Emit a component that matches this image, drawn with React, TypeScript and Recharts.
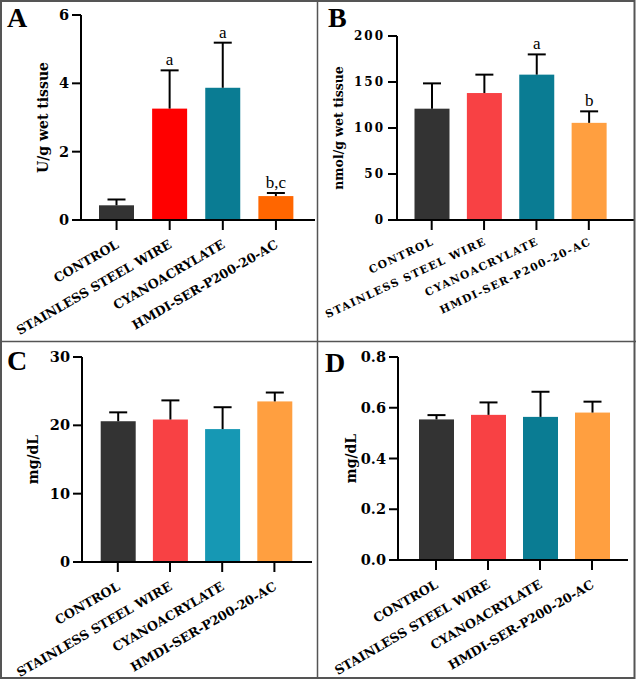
import React from 'react';
import { BarChart, Bar, XAxis, YAxis, Cell, LabelList } from 'recharts';

const groups = ['CONTROL', 'STAINLESS STEEL WIRE', 'CYANOACRYLATE', 'HMDI-SER-P200-20-AC'];

// panel A
const aMean = [0.43, 3.26, 3.87, 0.70];
const aErr = [0.17, 1.12, 1.32, 0.09];
const aNote = ['', 'a', 'a', 'b,c'];
const aTicks = [0, 2, 4, 6];
const aColors = ['#333333', '#FF0000', '#0A7C93', '#FF6600'];

// panel B
const bMean = [121, 138, 158, 105.6];
const bErr = [27.5, 20, 22, 12.5];
const bNote = ['', '', 'a', 'b'];
const bTicks = [0, 50, 100, 150, 200];
const bColors = ['#333333', '#F84144', '#0A7C93', '#FF9F40'];

// panel C
const cMean = [20.6, 20.85, 19.45, 23.5];
const cErr = [1.3, 2.8, 3.2, 1.3];
const cTicks = [0, 10, 20, 30];
const cColors = ['#333333', '#F84144', '#1698B4', '#FF9F40'];

// panel D
const dMean = [0.554, 0.572, 0.564, 0.581];
const dErr = [0.017, 0.049, 0.099, 0.043];
const dTicks = [0, 0.2, 0.4, 0.6, 0.8];
const dColors = ['#333333', '#F84144', '#0A7C93', '#FF9F40'];

const SERIF = '"DejaVu Serif", "Liberation Serif", serif';
const TIMES = '"Liberation Serif", serif';

const makeRows = (mean: number[], err: number[], notes?: string[]) =>
  groups.map((name, i) => ({ name, value: mean[i], up: err[i], note: notes ? notes[i] : '' }));

// bar plus upward SEM whisker (the lower half sits behind the bar)
const WhiskerBar = (sp: any) => {
  const { x, y, width, height, fill, payload } = sp;
  if (!payload || !height) return null;
  const k = height / payload.value;
  const top = y - payload.up * k;
  const cx = x + width / 2;
  return (
    <g>
      <rect x={x} y={y} width={width} height={height} fill={fill} />
      <line x1={cx} y1={y} x2={cx} y2={top} stroke="#000" strokeWidth={2} />
      <line x1={cx - 9} y1={top} x2={cx + 9} y2={top} stroke="#000" strokeWidth={2} />
    </g>
  );
};

type PanelProps = {
  rows: any[];
  colors: string[];
  width: number;
  height: number;
  top: number;
  right: number;
  yWidth: number;
  xHeight: number;
  padL: number;
  padR: number;
  ticks: number[];
  yLabel: string;
  labelX: number;
  labelSize: number;
  fmt?: (v: number) => string;
  spaced?: boolean;
};

const Panel = (p: PanelProps) => {
  const xSize = p.spaced ? 10.7 : 12.6;
  const xSpacing = p.spaced ? 1.3 : 0;
  const angle = p.spaced ? -25 : -30;

  const XTick = (tp: any) => {
    const tx = tp.x + 3;
    const ty = tp.y + (p.spaced ? 8 : 11);
    return (
      <text x={tx} y={ty} transform={`rotate(${angle}, ${tx}, ${ty})`} textAnchor="end"
        fontFamily={SERIF} fontWeight={700} fontSize={xSize} letterSpacing={xSpacing} fill="#000">
        {tp.payload.value}
      </text>
    );
  };

  const YTitle = (lp: any) => {
    const vb = lp.viewBox;
    const lx = vb.x + p.labelX;
    const ly = vb.y + vb.height / 2;
    return (
      <text x={lx} y={ly} transform={`rotate(-90, ${lx}, ${ly})`} textAnchor="middle" dominantBaseline="central"
        fontFamily={SERIF} fontWeight={700} fontSize={p.labelSize} fill="#000">
        {p.yLabel}
      </text>
    );
  };

  const note = (lp: any) => {
    const r = p.rows[lp.index];
    if (!r || !r.note) return null;
    const k = lp.height / r.value;
    const capY = lp.y - r.up * k;
    return (
      <text x={lp.x + lp.width / 2} y={capY - 5} textAnchor="middle" fontFamily={TIMES} fontSize={17} fill="#000">
        {r.note}
      </text>
    );
  };

  return (
    <BarChart width={p.width} height={p.height} data={p.rows} margin={{ top: p.top, right: p.right, left: 0, bottom: 0 }}
      style={{ overflow: 'visible' }}>
      <XAxis
        dataKey="name"
        interval={0}
        height={p.xHeight}
        padding={{ left: p.padL, right: p.padR }}
        axisLine={{ stroke: '#000', strokeWidth: 2 }}
        tickLine={{ stroke: '#000', strokeWidth: 2 }}
        tickSize={10}
        tickMargin={6}
        tick={<XTick />}
      />
      <YAxis
        width={p.yWidth}
        domain={[p.ticks[0], p.ticks[p.ticks.length - 1]]}
        ticks={p.ticks}
        interval={0}
        tickFormatter={p.fmt}
        axisLine={{ stroke: '#000', strokeWidth: 2 }}
        tickLine={{ stroke: '#000', strokeWidth: 2 }}
        tickSize={9}
        tickMargin={3}
        tick={{
          fontFamily: SERIF,
          fontWeight: 700,
          fill: '#000',
          fontSize: p.spaced ? 12 : 14.5,
          letterSpacing: p.spaced ? 2 : 0,
        }}
        label={{ position: 'center', content: YTitle }}
      />
      <Bar dataKey="value" barSize={35} shape={WhiskerBar} isAnimationActive={false}>
        {p.rows.map((r, i) => (
          <Cell key={`c-${i}`} fill={p.colors[i]} />
        ))}
        <LabelList content={note} />
      </Bar>
    </BarChart>
  );
};

const App = () => {
  const box = (left: number, top: number, child: React.ReactNode) => (
    <div style={{ position: 'absolute', left, top }}>{child}</div>
  );

  return (
    <div style={{ position: 'absolute', left: 0, top: 0, width: 636, height: 679, background: '#fff' }}>
      {box(0, 0,
        <Panel rows={makeRows(aMean, aErr, aNote)} colors={aColors}
          width={317} height={341} top={15} right={2} yWidth={81} xHeight={121} padL={9} padR={12.5}
          ticks={aTicks} yLabel="U/g wet tissue" labelX={43} labelSize={14} />)}
      {box(318, 0,
        <Panel rows={makeRows(bMean, bErr, bNote)} colors={bColors}
          width={318} height={341} top={36} right={2} yWidth={79} xHeight={121} padL={8.5} padR={19}
          ticks={bTicks} yLabel="nmol/g wet tissue" labelX={20} labelSize={12.5} spaced />)}
      {box(0, 341,
        <Panel rows={makeRows(cMean, cErr)} colors={cColors}
          width={317} height={338} top={16} right={5} yWidth={82} xHeight={117} padL={9.7} padR={11.5}
          ticks={cTicks} yLabel="mg/dL" labelX={33} labelSize={14} />)}
      {box(318, 341,
        <Panel rows={makeRows(dMean, dErr)} colors={dColors}
          width={318} height={338} top={16} right={8} yWidth={80} xHeight={119} padL={12} padR={10}
          ticks={dTicks} yLabel="mg/dL" labelX={33} labelSize={14} fmt={(v) => v.toFixed(1)} />)}
      <svg width={636} height={679} style={{ position: 'absolute', left: 0, top: 0, pointerEvents: 'none' }}>
        <rect x={1} y={1} width={633.5} height={677} fill="none" stroke="#555" strokeWidth={2} />
        <line x1={317.5} y1={0} x2={317.5} y2={679} stroke="#555" strokeWidth={1.5} />
        <line x1={0} y1={341.5} x2={636} y2={341.5} stroke="#555" strokeWidth={1.5} />
        <g fontFamily={TIMES} fontWeight={700} fontSize={28} fill="#000">
          <text x={7} y={27}>A</text>
          <text x={328} y={27}>B</text>
          <text x={7} y={370}>C</text>
          <text x={325} y={372}>D</text>
        </g>
      </svg>
    </div>
  );
};

export default App;
